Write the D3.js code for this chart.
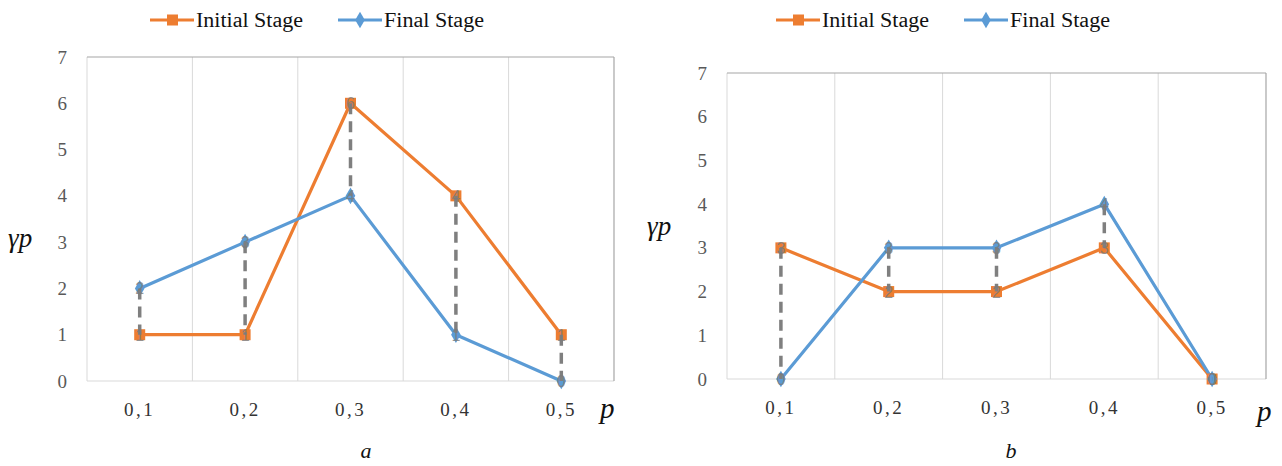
<!DOCTYPE html>
<html>
<head>
<meta charset="utf-8">
<script src="https://cdn.jsdelivr.net/npm/d3@7"></script>
<style>
  html, body { margin: 0; padding: 0; background: #fff; }
  svg { display: block; }
</style>
</head>
<body>
<svg id="chart" width="1282" height="466">
  <!-- axis titles and panel captions -->
  <g fill="#111" style="font-family:'Liberation Serif';font-style:italic">
    <text x="8" y="247" style="font-size:27px">γp</text>
    <text x="600" y="418" style="font-size:29px">p</text>
    <text x="366" y="458" text-anchor="middle" style="font-size:22px">a</text>
    <text x="647" y="235" style="font-size:27px">γp</text>
    <text x="1257" y="421" style="font-size:29px">p</text>
    <text x="1011" y="458" text-anchor="middle" style="font-size:22px">b</text>
  </g>
</svg>
<script>
// Category labels on the p axis
const categories = ["0,1", "0,2", "0,3", "0,4", "0,5"];
const yTicks = [0, 1, 2, 3, 4, 5, 6, 7];
const seriesNames = ["Initial Stage", "Final Stage"];

// Panel a
const initialA = [1, 1, 6, 4, 1];
const finalA = [2, 3, 4, 1, 0];
// Panel b
const initialB = [3, 2, 2, 3, 0];
const finalB = [0, 3, 3, 4, 0];

const ORANGE = "#ed7d31";
const BLUE = "#5b9bd5";
const GRID = "#d9d9d9";
const DASH = "#7f7f7f";
const TICK_TEXT = "#595959";
const SERIF_CSS = "font-family:'Liberation Serif';";

const svg = d3.select("#chart");

function drawPanel(cfg) {
  const { left, right, top, bottom, initial, final: fin, legendX } = cfg;
  const g = svg.append("g");

  const x = d3.scaleBand().domain(categories).range([left, right]).padding(0);
  const y = d3.scaleLinear().domain([0, 7]).range([bottom, top]);
  const cx = c => x(c) + x.bandwidth() / 2;

  // vertical gridlines between categories
  g.append("g").selectAll("line")
    .data(categories.slice(1))
    .join("line")
    .attr("x1", d => x(d)).attr("x2", d => x(d))
    .attr("y1", top).attr("y2", bottom)
    .attr("stroke", GRID).attr("stroke-width", 1);

  // plot frame
  g.append("line").attr("x1", left).attr("x2", left).attr("y1", top).attr("y2", bottom)
    .attr("stroke", GRID).attr("stroke-width", 1);
  g.append("line").attr("x1", left).attr("x2", right).attr("y1", bottom).attr("y2", bottom)
    .attr("stroke", GRID).attr("stroke-width", 1);
  g.append("line").attr("x1", left).attr("x2", right).attr("y1", top).attr("y2", top)
    .attr("stroke", "#a6a6a6").attr("stroke-width", 1.2);
  g.append("line").attr("x1", right).attr("x2", right).attr("y1", top).attr("y2", bottom)
    .attr("stroke", "#a6a6a6").attr("stroke-width", 1.2);

  // y axis ticks
  const yAxis = d3.axisLeft(y).tickValues(yTicks).tickSize(0).tickPadding(0).tickFormat(d3.format("d"));
  const ya = g.append("g").attr("transform", `translate(${left - 20},0)`).call(yAxis);
  ya.attr("font-family", null).attr("font-size", null);
  ya.select(".domain").remove();
  ya.selectAll("text").attr("style", SERIF_CSS + "font-size:19px").attr("fill", TICK_TEXT)
    .attr("text-anchor", "end").attr("dy", "0.32em");

  // x axis ticks
  const xAxis = d3.axisBottom(x).tickSize(0).tickPadding(0);
  const xa = g.append("g").attr("transform", `translate(0,${bottom + 35})`).call(xAxis);
  xa.attr("font-family", null).attr("font-size", null);
  xa.select(".domain").remove();
  xa.selectAll("text").attr("style", SERIF_CSS + "font-size:19px;letter-spacing:2.5px")
    .attr("fill", "#333").attr("dy", "0");

  const line = d3.line().x((d, i) => cx(categories[i])).y(d => y(d));

  g.append("path").datum(initial).attr("d", line)
    .attr("fill", "none").attr("stroke", ORANGE).attr("stroke-width", 3.2).attr("stroke-linejoin", "round");
  g.append("path").datum(fin).attr("d", line)
    .attr("fill", "none").attr("stroke", BLUE).attr("stroke-width", 3.2).attr("stroke-linejoin", "round");

  // markers
  g.append("g").selectAll("rect").data(initial).join("rect")
    .attr("x", (d, i) => cx(categories[i]) - 5.5).attr("y", d => y(d) - 5.5)
    .attr("width", 11).attr("height", 11).attr("fill", ORANGE);
  const diamond = d3.symbol().type(d3.symbolDiamond).size(80);
  g.append("g").selectAll("path").data(fin).join("path")
    .attr("d", diamond)
    .attr("transform", (d, i) => `translate(${cx(categories[i])},${y(d)})`)
    .attr("fill", BLUE);

  // dashed high-low lines linking the two stages
  g.append("g").selectAll("line").data(categories).join("line")
    .attr("x1", d => cx(d)).attr("x2", d => cx(d))
    .attr("y1", (d, i) => y(Math.max(initial[i], fin[i])))
    .attr("y2", (d, i) => y(Math.min(initial[i], fin[i])))
    .attr("stroke", DASH).attr("stroke-width", 3.5).attr("stroke-dasharray", "11,7");

  // value labels centred on the points
  const labels = [];
  initial.forEach((v, i) => labels.push({ v, i }));
  fin.forEach((v, i) => labels.push({ v, i }));
  g.append("g").selectAll("text").data(labels).join("text")
    .attr("x", d => cx(categories[d.i])).attr("y", d => y(d.v) + 6)
    .attr("text-anchor", "middle").attr("style", "font-family:'Liberation Sans';font-size:16px")
    .attr("fill", "#7a7a7a").attr("fill-opacity", 0.8)
    .text(d => d.v);

  // legend
  const lg = g.append("g").attr("transform", `translate(${legendX},20)`);
  const items = [
    { name: seriesNames[0], color: ORANGE, type: "square", dx: 0, w: 107 },
    { name: seriesNames[1], color: BLUE, type: "diamond", dx: 188, w: 100 }
  ];
  items.forEach(it => {
    const ig = lg.append("g").attr("transform", `translate(${it.dx},0)`);
    ig.append("line").attr("x1", 0).attr("x2", 44).attr("y1", 0).attr("y2", 0)
      .attr("stroke", it.color).attr("stroke-width", 3.2);
    if (it.type === "square") {
      ig.append("rect").attr("x", 17).attr("y", -5.5).attr("width", 11).attr("height", 11).attr("fill", it.color);
    } else {
      ig.append("path").attr("d", diamond).attr("transform", "translate(22,0)").attr("fill", it.color);
    }
    ig.append("text").attr("x", 46).attr("y", 7).attr("style", SERIF_CSS + "font-size:20px")
      .attr("fill", "#111").attr("textLength", it.w).attr("lengthAdjust", "spacingAndGlyphs")
      .text(it.name);
  });
}

drawPanel({
  left: 87, right: 614, top: 57, bottom: 381,
  initial: initialA, final: finalA, legendX: 150
});

drawPanel({
  left: 727, right: 1266, top: 73, bottom: 379,
  initial: initialB, final: finalB, legendX: 776
});
</script>
</body>
</html>
